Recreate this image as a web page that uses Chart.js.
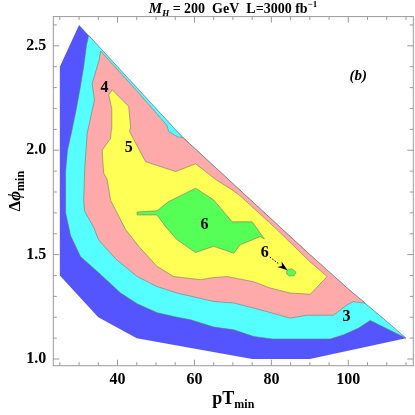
<!DOCTYPE html>
<html lang="en">
<head>
<meta charset="UTF-8">
<title>Significance contours</title>
<script src="https://cdn.jsdelivr.net/npm/chart.js"></script>
<style>
  body { margin: 0; background: #fff; }
</style>
</head>
<body>
<canvas id="contourChart" width="415" height="415"></canvas>
<script>
// axis ranges and labelled ticks
const xRange = [23.3, 116.9];
const yRange = [0.968, 2.64];
const xMajorTicks = [40, 60, 80, 100];
const yMajorTicks = [1.0, 1.5, 2.0, 2.5];

// filled contour regions as [pTmin, dphimin] outlines (nested: each lies on top of the previous)
const regionBelow3 = [[30,2.6],[40,2.4],[50,2.2],[56.5,2.07],[60,2.01],[70,1.84],[80,1.67],[90,1.5],[100,1.335],[110,1.18],[115,1.1],[90,1.0],[75,1.0],[45,1.1],[35,1.2],[25,1.4],[25,2.4]];
const region3 = [[32.5,2.55],[40,2.4],[50,2.2],[56.5,2.07],[60,2.01],[70,1.84],[80,1.67],[90,1.5],[100,1.335],[110,1.18],[115,1.1],[105.7,1.185],[102.7,1.148],[98.8,1.116],[95.3,1.096],[80.2,1.096],[75.4,1.108],[70.2,1.14],[65,1.153],[59,1.188],[55.5,1.2],[50.3,1.222],[45.1,1.265],[40.8,1.316],[35.3,1.41],[30.4,1.49],[27.8,1.59],[26.5,1.7],[26.4,1.8],[26.6,1.9],[27,2.0],[28.2,2.1],[29.3,2.2],[30.3,2.3],[31.2,2.4],[31.9,2.5]];
const region4 = [[35.6,2.475],[45,2.285],[52.8,2.12],[53.3,2.09],[55.5,2.065],[57,2.06],[60,2.01],[70,1.84],[80,1.67],[90,1.5],[100,1.335],[104.4,1.267],[101.4,1.275],[99.7,1.26],[96.2,1.21],[89.3,1.21],[84.9,1.196],[80.2,1.22],[75.4,1.244],[70.2,1.268],[65,1.276],[61.6,1.29],[55.5,1.316],[50.3,1.347],[45.1,1.395],[39.5,1.48],[35.1,1.57],[33.8,1.63],[31.4,1.71],[31.2,1.76],[31.5,1.92],[32.1,2.08],[33.4,2.19],[34,2.24],[33.4,2.32],[35.2,2.43]];
const region5 = [[38.6,2.29],[42.9,2.21],[43.4,2.11],[43.1,2.09],[47.3,1.945],[55.1,1.898],[60.3,1.935],[65.5,1.86],[69.8,1.81],[72,1.78],[80.6,1.635],[90.1,1.465],[94.5,1.395],[90.1,1.31],[84.9,1.316],[79.7,1.34],[75.4,1.37],[68.5,1.395],[65,1.39],[61.6,1.38],[54.6,1.395],[50.3,1.443],[45.5,1.54],[42.1,1.62],[38.2,1.76],[37.3,1.86],[36.4,1.89],[36,2.0],[38.2,2.057],[38.4,2.1],[38.5,2.2],[37.7,2.265]];
const region6 = [[45.1,1.704],[50.3,1.71],[53.2,1.753],[60.3,1.818],[65,1.762],[69.8,1.657],[75,1.657],[78.2,1.575],[77.1,1.587],[71.9,1.547],[70.2,1.507],[65,1.54],[60.3,1.51],[55.5,1.571],[52.5,1.634],[50.3,1.69],[45.1,1.69]];
const region6Island = [[84.0,1.425],[85.3,1.433],[86.4,1.416],[85.9,1.399],[84.6,1.398],[83.9,1.41]];

const regionColors = ['#5555ff', '#55ffff', '#ffaaaa', '#ffff55', '#55ff55', '#55ff55'];

// contour level labels
const labelText = ['3', '4', '5', '6', '6'];
const labelX = [99.5, 36.6, 42.9, 62.6, 78.3];
const labelY = [1.2, 2.297, 2.01, 1.642, 1.51];
const arrowFrom = [79.6, 1.488];
const arrowTo = [84.2, 1.425];

const serif = '"Liberation Serif", "Times New Roman", serif';

function toPoints(poly) {
    const pts = poly.map(p => ({x: p[0], y: p[1]}));
    pts.push({x: poly[0][0], y: poly[0][1]});
    return pts;
}

const regions = [regionBelow3, region3, region4, region5, region6, region6Island];
const datasets = regions.map((poly, i) => ({
    data: toPoints(poly),
    backgroundColor: regionColors[i],
    borderColor: i === 0 ? regionColors[0] : 'rgba(110,110,110,0.55)',
    borderWidth: i === 0 ? 0 : 1,
    fill: 'shape',
    pointRadius: 0,
    tension: 0,
    order: regions.length - i
}));

function drawPieces(ctx, pieces, cx, baseline) {
    let w = 0;
    pieces.forEach(p => { ctx.font = p.font; w += ctx.measureText(p.text).width; });
    let xx = cx - w / 2;
    pieces.forEach(p => {
        ctx.font = p.font;
        ctx.fillText(p.text, xx, baseline + (p.dy || 0));
        xx += ctx.measureText(p.text).width;
    });
}

const overlay = {
    id: 'overlay',
    afterDatasetsDraw(chart) {
        const {ctx, chartArea: a, scales: {x, y}} = chart;
        ctx.save();
        ctx.strokeStyle = '#9a9a9a';
        ctx.lineWidth = 1;
        ctx.strokeRect(a.left, a.top, a.right - a.left, a.bottom - a.top);

        // inward ticks on all four sides
        ctx.beginPath();
        x.ticks.forEach(t => {
            const px = x.getPixelForValue(t.value);
            const len = t.label ? 6 : 3.5;
            ctx.moveTo(px, a.bottom); ctx.lineTo(px, a.bottom - len);
            ctx.moveTo(px, a.top); ctx.lineTo(px, a.top + len);
        });
        y.ticks.forEach(t => {
            const py = y.getPixelForValue(t.value);
            const len = t.label ? 6 : 3.5;
            ctx.moveTo(a.left, py); ctx.lineTo(a.left + len, py);
            ctx.moveTo(a.right, py); ctx.lineTo(a.right - len, py);
        });
        ctx.stroke();

        // contour labels
        ctx.fillStyle = '#000';
        ctx.textAlign = 'center';
        ctx.textBaseline = 'middle';
        ctx.font = 'bold 16px ' + serif;
        labelText.forEach((s, i) => {
            ctx.fillText(s, x.getPixelForValue(labelX[i]), y.getPixelForValue(labelY[i]));
        });
        ctx.font = 'italic bold 15px ' + serif;
        ctx.fillText('(b)', x.getPixelForValue(102.6), y.getPixelForValue(2.356));

        // dotted arrow to the small island
        const x0 = x.getPixelForValue(arrowFrom[0]), y0 = y.getPixelForValue(arrowFrom[1]);
        const x1 = x.getPixelForValue(arrowTo[0]), y1 = y.getPixelForValue(arrowTo[1]);
        const ang = Math.atan2(y1 - y0, x1 - x0);
        const hx = x1 - 10 * Math.cos(ang), hy = y1 - 10 * Math.sin(ang);
        ctx.strokeStyle = '#000';
        ctx.setLineDash([1.5, 1.5]);
        ctx.beginPath();
        ctx.moveTo(x0, y0); ctx.lineTo(hx, hy);
        ctx.stroke();
        ctx.setLineDash([]);
        ctx.beginPath();
        ctx.moveTo(x1, y1);
        ctx.lineTo(hx + 3.5 * Math.sin(ang), hy - 3.5 * Math.cos(ang));
        ctx.lineTo(x1 - 7 * Math.cos(ang), y1 - 7 * Math.sin(ang));
        ctx.lineTo(hx - 3.5 * Math.sin(ang), hy + 3.5 * Math.cos(ang));
        ctx.closePath();
        ctx.fill();

        // title and axis titles
        ctx.textAlign = 'left';
        ctx.textBaseline = 'alphabetic';
        drawPieces(ctx, [
            {text: 'M', font: 'italic bold 15px ' + serif},
            {text: 'H', font: 'italic bold 9px ' + serif, dy: 3},
            {text: ' = 200  GeV  L=3000 fb', font: 'bold 14px ' + serif},
            {text: '\u22121', font: 'bold 9px ' + serif, dy: -6}
        ], 233, 13);
        drawPieces(ctx, [
            {text: 'pT', font: 'bold 18px ' + serif},
            {text: 'min', font: 'bold 12px ' + serif, dy: 4}
        ], (a.left + a.right) / 2, 404);
        ctx.translate(20, (a.top + a.bottom) / 2);
        ctx.rotate(-Math.PI / 2);
        drawPieces(ctx, [
            {text: '\u0394', font: 'bold 17px ' + serif},
            {text: '\u03d5', font: 'italic bold 17px ' + serif},
            {text: 'min', font: 'bold 12px ' + serif, dy: 4}
        ], 0, 0);
        ctx.restore();
    }
};

const ctx = document.getElementById('contourChart').getContext('2d');
const contourChart = new Chart(ctx, {
    type: 'line',
    data: { datasets: datasets },
    options: {
        responsive: false,
        animation: false,
        devicePixelRatio: 1,
        layout: { padding: { top: 15.7, right: 1.7, bottom: 0, left: 0 } },
        plugins: { legend: { display: false }, tooltip: { enabled: false }, title: { display: false } },
        scales: {
            x: {
                type: 'linear',
                min: xRange[0],
                max: xRange[1],
                grid: { display: false, drawTicks: false },
                border: { display: false },
                afterFit: s => { s.height = 49.3; },
                ticks: {
                    stepSize: 5,
                    includeBounds: false,
                    autoSkip: false,
                    maxRotation: 0,
                    padding: 5,
                    color: '#000',
                    font: { family: serif, size: 16, weight: 'bold' },
                    callback: v => xMajorTicks.includes(v) ? String(v) : ''
                }
            },
            y: {
                type: 'linear',
                min: yRange[0],
                max: yRange[1],
                grid: { display: false, drawTicks: false },
                border: { display: false },
                afterFit: s => { s.width = 53.3; },
                ticks: {
                    stepSize: 0.1,
                    includeBounds: false,
                    autoSkip: false,
                    padding: 7,
                    color: '#000',
                    font: { family: serif, size: 16, weight: 'bold' },
                    callback: v => yMajorTicks.some(m => Math.abs(m - v) < 1e-6) ? v.toFixed(1) : ''
                }
            }
        }
    },
    plugins: [overlay]
});
</script>
</body>
</html>
